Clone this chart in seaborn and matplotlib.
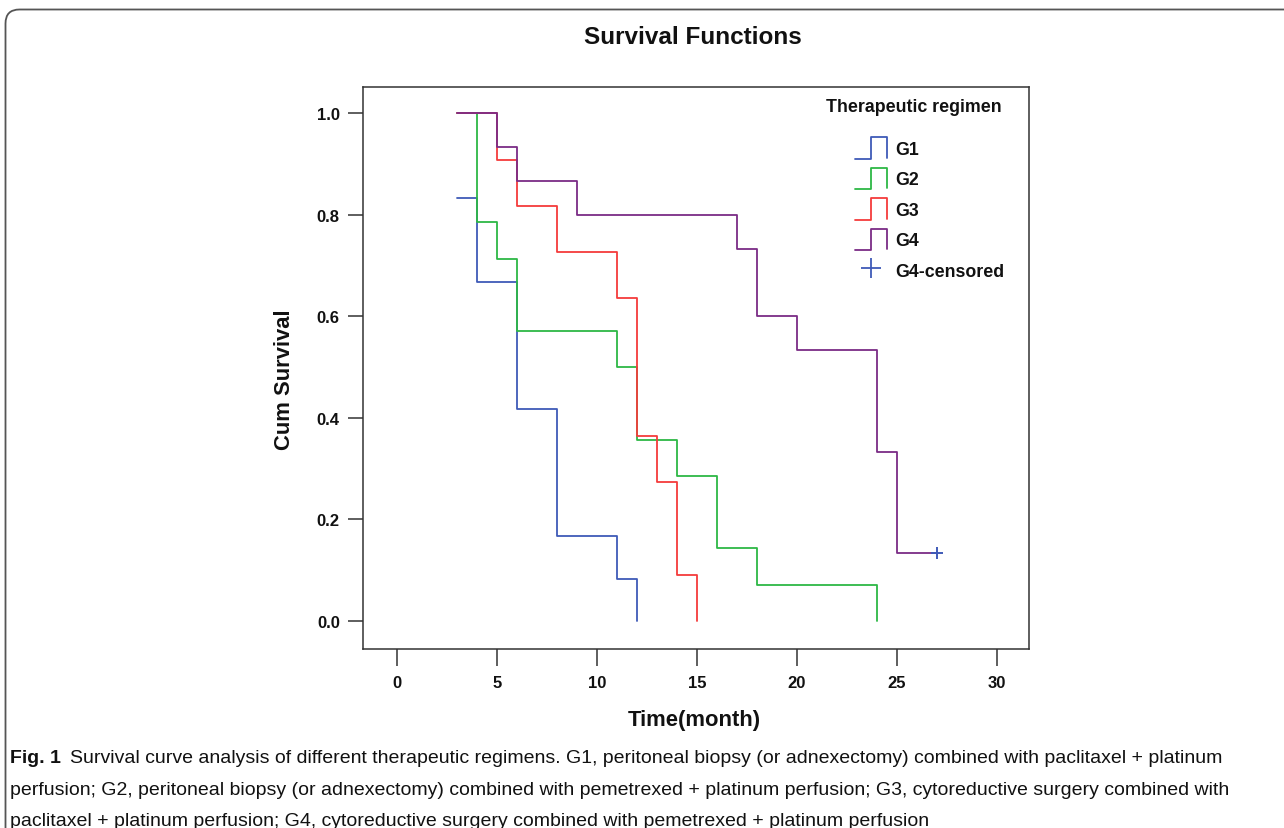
import numpy as np
import pandas as pd
import matplotlib
matplotlib.use("Agg")
import matplotlib.pyplot as plt
import seaborn as sns
from matplotlib.legend_handler import HandlerBase
from matplotlib.lines import Line2D
from matplotlib.patches import FancyBboxPatch
from matplotlib.transforms import IdentityTransform
from matplotlib import font_manager

# ---------------- data ----------------
groups = ["G1", "G2", "G3", "G4"]
g1_time = [3, 4, 6, 8, 11, 12]
g1_surv = [0.833, 0.667, 0.417, 0.167, 0.083, 0.0]
g2_time = [3, 4, 5, 6, 11, 12, 14, 16, 18, 24]
g2_surv = [1.0, 0.786, 0.714, 0.571, 0.5, 0.357, 0.286, 0.143, 0.071, 0.0]
g3_time = [3, 5, 6, 8, 11, 12, 13, 14, 15]
g3_surv = [1.0, 0.909, 0.818, 0.727, 0.636, 0.364, 0.273, 0.091, 0.0]
g4_time = [3, 5, 6, 9, 17, 18, 20, 24, 25, 27]
g4_surv = [1.0, 0.933, 0.867, 0.8, 0.733, 0.6, 0.533, 0.333, 0.133, 0.133]
censor_time = [27]
censor_surv = [0.133]
legend_title = "Therapeutic regimen"
legend_labels = ["G1", "G2", "G3", "G4", "G4-censored"]
x_ticks = [0, 5, 10, 15, 20, 25, 30]
y_ticks = [0.0, 0.2, 0.4, 0.6, 0.8, 1.0]
y_tick_labels = ["0.0", "0.2", "0.4", "0.6", "0.8", "1.0"]

colors = {"G1": "#3f5ab8", "G2": "#2db845", "G3": "#f43c3c", "G4": "#7b2c86"}

caption_bold = "Fig. 1"
caption_lines = [
    "Survival curve analysis of different therapeutic regimens. G1, peritoneal biopsy (or adnexectomy) combined with paclitaxel + platinum",
    "perfusion; G2, peritoneal biopsy (or adnexectomy) combined with pemetrexed + platinum perfusion; G3, cytoreductive surgery combined with",
    "paclitaxel + platinum perfusion; G4, cytoreductive surgery combined with pemetrexed + platinum perfusion",
]

df = pd.concat([
    pd.DataFrame({"time": t, "surv": s, "group": g})
    for g, t, s in zip(groups, [g1_time, g2_time, g3_time, g4_time],
                       [g1_surv, g2_surv, g3_surv, g4_surv])
], ignore_index=True)

# ---------------- style ----------------
sns.set_style("ticks")
plt.rcParams["font.family"] = ["Liberation Sans", "DejaVu Sans"]
names = {f.name for f in font_manager.fontManager.ttflist}
narrow = "Liberation Sans Narrow" if "Liberation Sans Narrow" in names else "Liberation Sans"

W, H = 1284, 829
fig = plt.figure(figsize=(W / 100, H / 100), dpi=100)
fig.patch.set_facecolor("white")

ax_l, ax_r, ax_t, ax_b = 362.7, 1029, 88, 650
ax = fig.add_axes([ax_l / W, 1 - ax_b / H, (ax_r - ax_l) / W, (ax_b - ax_t) / H])

sns.lineplot(data=df, x="time", y="surv", hue="group", hue_order=groups,
             palette=colors, estimator=None, drawstyle="steps-post",
             linewidth=1.3, legend=False, ax=ax)
sns.scatterplot(x=censor_time, y=censor_surv, marker="+", color=colors["G1"],
                s=70, linewidth=1.4, ax=ax, zorder=5)

ax.set_xlim(-1.7, 31.6)
ax.set_ylim(-0.0552, 1.052)
ax.set_xticks(x_ticks)
ax.set_xticklabels([str(v) for v in x_ticks])
ax.set_yticks(y_ticks)
ax.set_yticklabels(y_tick_labels)
ax.tick_params(axis="x", direction="out", length=12, width=1.1, color="#333333",
               labelsize=12, pad=7, labelcolor="#111111")
ax.tick_params(axis="y", direction="out", length=10.5, width=1.1, color="#333333",
               labelsize=12, pad=6, labelcolor="#111111")
for lab in ax.get_xticklabels() + ax.get_yticklabels():
    lab.set_fontweight("bold")
for sp in ax.spines.values():
    sp.set_visible(True)
    sp.set_color("#333333")
    sp.set_linewidth(1.1)

ax.set_xlabel("Time(month)", fontsize=15.8, fontweight="bold", color="#111111")
ax.set_ylabel("Cum Survival", fontsize=15.8, fontweight="bold", color="#111111")
ax.xaxis.label.set_va("center")
ax.yaxis.label.set_va("center")
ax.xaxis.set_label_coords((694 - ax_l) / (ax_r - ax_l), (ax_b - 721) / (ax_b - ax_t))
ax.yaxis.set_label_coords((285 - ax_l) / (ax_r - ax_l), (ax_b - 380) / (ax_b - ax_t))

fig.text(693 / W, 1 - 37 / H, "Survival Functions", ha="center", va="center",
         fontsize=17.5, fontweight="bold", color="#111111", family=[narrow, "DejaVu Sans"])


# ---------------- legend ----------------
class StepHandler(HandlerBase):
    def create_artists(self, legend, orig_handle, xdescent, ydescent, width,
                       height, fontsize, trans):
        x0, y0 = -xdescent, -ydescent
        xm = x0 + width * 0.5
        xs = [x0, xm, xm, x0 + width, x0 + width]
        ys = [y0, y0, y0 + height, y0 + height, y0 + 0.05 * height]
        return [Line2D(xs, ys, color=orig_handle.get_color(), linewidth=1.3,
                       transform=trans)]


step_handles = [Line2D([], [], color=colors[g]) for g in groups]
cens_handle = Line2D([], [], color=colors["G1"], marker="+", linestyle="none",
                     markersize=15, markeredgewidth=1.3)
handler_map = {h: StepHandler() for h in step_handles}
leg = ax.legend(step_handles + [cens_handle], legend_labels,
                handler_map=handler_map,
                frameon=False, loc="upper right",
                bbox_to_anchor=(1004 / W, 1 - 138 / H), bbox_transform=fig.transFigure,
                borderaxespad=0, borderpad=0, fontsize=12.8,
                handlelength=1.8, handleheight=1.5, labelspacing=0.5,
                handletextpad=0.45)
for t in leg.get_texts():
    t.set_fontweight("bold")
    t.set_color("#111111")
fig.text(1002 / W, 1 - 108 / H, legend_title, ha="right", va="center",
         fontsize=12.8, fontweight="bold", color="#111111")

# ---------------- caption ----------------
border = FancyBboxPatch((5.5, -40), 1330, H - 10.5 + 40,
                        boxstyle="round,pad=0,rounding_size=14",
                        transform=IdentityTransform(), fill=False,
                        ec="#555555", lw=1.3)
fig.add_artist(border)

cap_size = 12.5
fig.canvas.draw()
renderer = fig.canvas.get_renderer()
probe = fig.text(10 / W, 0.5, caption_lines[1], fontsize=cap_size, family=[narrow, "DejaVu Sans"])
wpx = probe.get_window_extent(renderer).width
probe.remove()
cap_size = cap_size * (1218 / wpx)

ys = [759, 791, 822]
tb = fig.text(10 / W, 1 - ys[0] / H, caption_bold, fontsize=cap_size, fontweight="bold",
              va="center", family=[narrow, "DejaVu Sans"], color="#111111")
fig.canvas.draw()
x1 = tb.get_window_extent(renderer).x1
fig.text((x1 + 9) / W, 1 - ys[0] / H, caption_lines[0], fontsize=cap_size, va="center",
         family=[narrow, "DejaVu Sans"], color="#111111")
for y, line in zip(ys[1:], caption_lines[1:]):
    fig.text(10 / W, 1 - y / H, line, fontsize=cap_size, va="center",
             family=[narrow, "DejaVu Sans"], color="#111111")

fig.savefig("out.png", dpi=100, facecolor="white")
